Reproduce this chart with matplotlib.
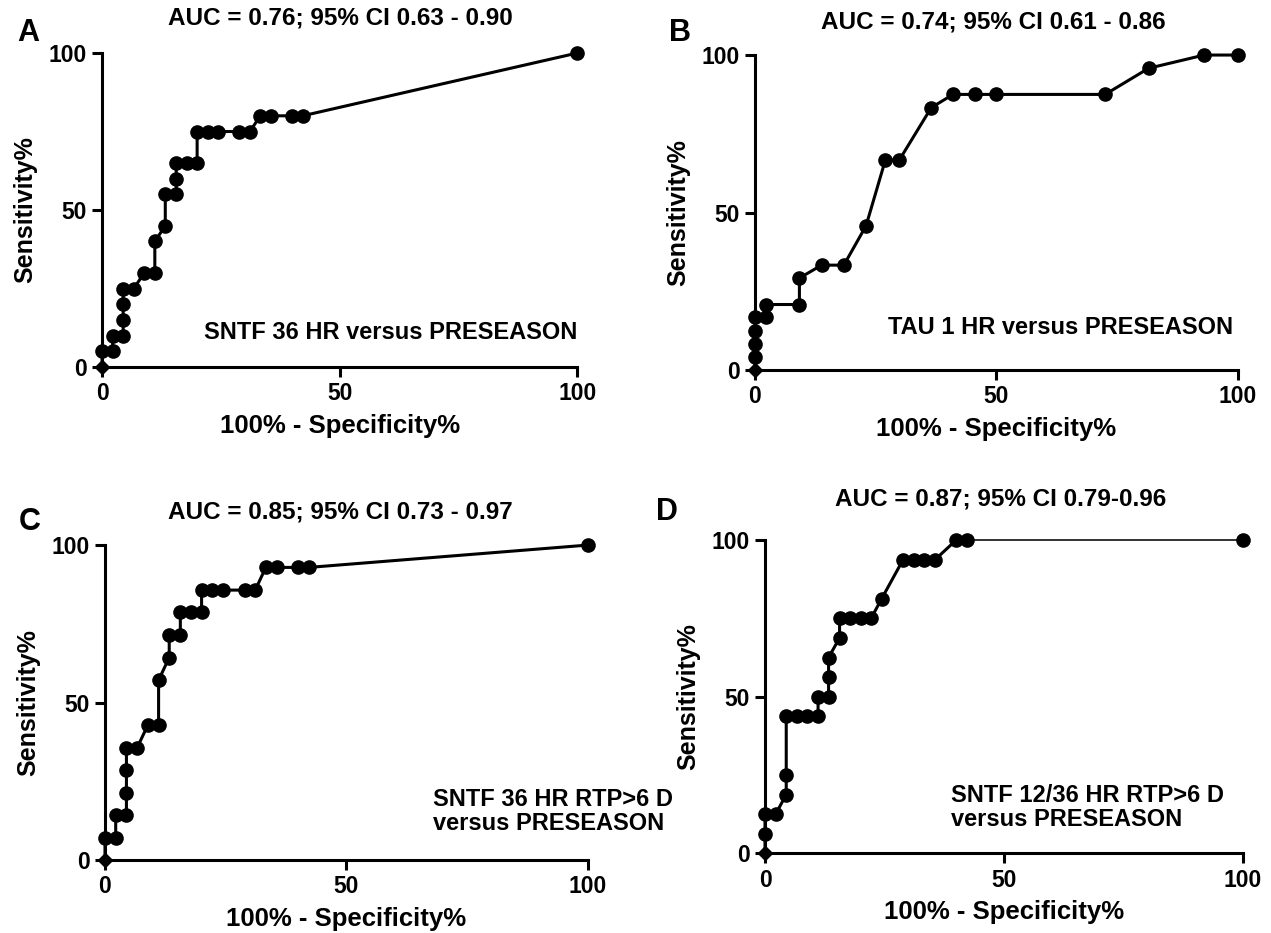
#!/usr/bin/env python3
import matplotlib
matplotlib.use('Agg')
import matplotlib.pyplot as plt

plt.rcParams['font.family'] = ['Liberation Sans', 'DejaVu Sans']
plt.rcParams['font.weight'] = 'bold'

# ROC points (100% - specificity%, sensitivity%)
a_x = [0, 0, 2.22, 2.22, 4.44, 4.44, 4.44, 4.44, 6.67, 8.89, 11.1, 11.1, 13.3, 13.3,
       15.6, 15.6, 15.6, 17.8, 20, 20, 22.2, 24.4, 28.9, 31.1, 33.3, 35.6, 40, 42.2, 100]
a_y = [0, 5, 5, 10, 10, 15, 20, 25, 25, 30, 30, 40, 45, 55,
       55, 60, 65, 65, 65, 75, 75, 75, 75, 75, 80, 80, 80, 80, 100]

b_x = [0, 0, 0, 0, 0, 2.3, 2.3, 9.2, 9.2, 13.8, 18.4, 23, 27, 29.9,
       36.5, 41, 45.5, 50, 72.5, 81.5, 93, 100]
b_y = [0, 4.17, 8.33, 12.5, 16.7, 16.7, 20.8, 20.8, 29.2, 33.3, 33.3, 45.8, 66.7, 66.7,
       83.3, 87.5, 87.5, 87.5, 87.5, 95.8, 100, 100]

c_x = [0, 0, 2.22, 2.22, 4.44, 4.44, 4.44, 4.44, 6.67, 8.89, 11.1, 11.1, 13.3, 13.3,
       15.6, 15.6, 17.8, 20, 20, 22.2, 24.4, 28.9, 31.1, 33.3, 35.6, 40, 42.2, 100]
c_y = [0, 7.14, 7.14, 14.3, 14.3, 21.4, 28.6, 35.7, 35.7, 42.9, 42.9, 57.1, 64.3, 71.4,
       71.4, 78.6, 78.6, 78.6, 85.7, 85.7, 85.7, 85.7, 85.7, 92.9, 92.9, 92.9, 92.9, 100]

d_x = [0, 0, 0, 2.22, 4.44, 4.44, 4.44, 6.67, 8.89, 11.1, 11.1, 13.3, 13.3, 13.3,
       15.6, 15.6, 17.8, 20, 22.2, 24.4, 28.9, 31.1, 33.3, 35.6, 40, 42.2, 100]
d_y = [0, 6.25, 12.5, 12.5, 18.75, 25, 43.75, 43.75, 43.75, 43.75, 50, 50, 56.25, 62.5,
       68.75, 75, 75, 75, 75, 81.25, 93.75, 93.75, 93.75, 93.75, 100, 100, 100]

titles = ['AUC = 0.76; 95% CI 0.63 - 0.90', 'AUC = 0.74; 95% CI 0.61 - 0.86',
          'AUC = 0.85; 95% CI 0.73 - 0.97', 'AUC = 0.87; 95% CI 0.79-0.96']
notes = ['SNTF 36 HR versus PRESEASON', 'TAU 1 HR versus PRESEASON',
         'SNTF 36 HR RTP>6 D\nversus PRESEASON', 'SNTF 12/36 HR RTP>6 D\nversus PRESEASON']
letters = ['A', 'B', 'C', 'D']


def draw_roc(ax, xs, ys, thin_tail=False):
    """ROC curve in Prism style: line, round dots, diamond at origin"""
    if thin_tail:
        ax.plot(xs[:-1], ys[:-1], color='black', lw=2.2, zorder=3, clip_on=False)
        ax.plot(xs[-2:], ys[-2:], color='#222222', lw=1.3, zorder=3, clip_on=False)
    else:
        ax.plot(xs, ys, color='black', lw=2.2, zorder=3, clip_on=False)
    ax.plot(xs[1:], ys[1:], 'o', color='black', ms=9.5, zorder=4, clip_on=False)
    ax.plot(xs[:1], ys[:1], 'D', color='black', ms=7, zorder=5, clip_on=False)


def style_axes(ax):
    ax.set_xlim(0, 100)
    ax.set_ylim(0, 100)
    ax.set_xticks([0, 50, 100])
    ax.set_yticks([0, 50, 100])
    for side in ['top', 'right']:
        ax.spines[side].set_visible(False)
    for side in ['left', 'bottom']:
        ax.spines[side].set_linewidth(2.2)
    ax.tick_params(width=2.2, length=7, labelsize=16.5, pad=4)
    for lab in ax.get_xticklabels() + ax.get_yticklabels():
        lab.set_fontweight('bold')
    ax.set_xlabel('100% - Specificity%', fontsize=18.5, fontweight='bold', labelpad=6)
    ax.set_ylabel('Sensitivity%', fontsize=18, fontweight='bold', labelpad=8)


fig = plt.figure(figsize=(12.71, 9.33), dpi=100)

boxes = [[0.0803, 0.6066, 0.374, 0.3366],
         [0.594, 0.6034, 0.380, 0.3376],
         [0.0826, 0.0782, 0.380, 0.3376],
         [0.6019, 0.0854, 0.376, 0.3358]]
data = [(a_x, a_y), (b_x, b_y), (c_x, c_y), (d_x, d_y)]

# note anchors (data coords) and alignment
note_pos = [(100, 11, 'right'), (99, 13.5, 'right'), (68, 15.5, 'left'), (39, 14.5, 'left')]
title_pos = [(340, 18), (993, 22), (340, 512), (1001, 499)]
letter_pos = [(28, 33), (680, 33), (30, 522), (667, 512)]

for i in range(4):
    ax = fig.add_axes(boxes[i])
    xs, ys = data[i]
    draw_roc(ax, xs, ys, thin_tail=(i == 3))
    style_axes(ax)
    nx, ny, ha = note_pos[i]
    ax.text(nx, ny, notes[i], ha=ha, va='center', fontsize=17, fontweight='bold',
            linespacing=1.05)
    tx, ty = title_pos[i]
    fig.text(tx / 1271, 1 - ty / 933, titles[i], ha='center', va='center',
             fontsize=17.5, fontweight='bold')
    lx, ly = letter_pos[i]
    fig.text(lx / 1271, 1 - ly / 933, letters[i], ha='center', va='center',
             fontsize=22, fontweight='bold')

fig.savefig('out.png', dpi=100)
